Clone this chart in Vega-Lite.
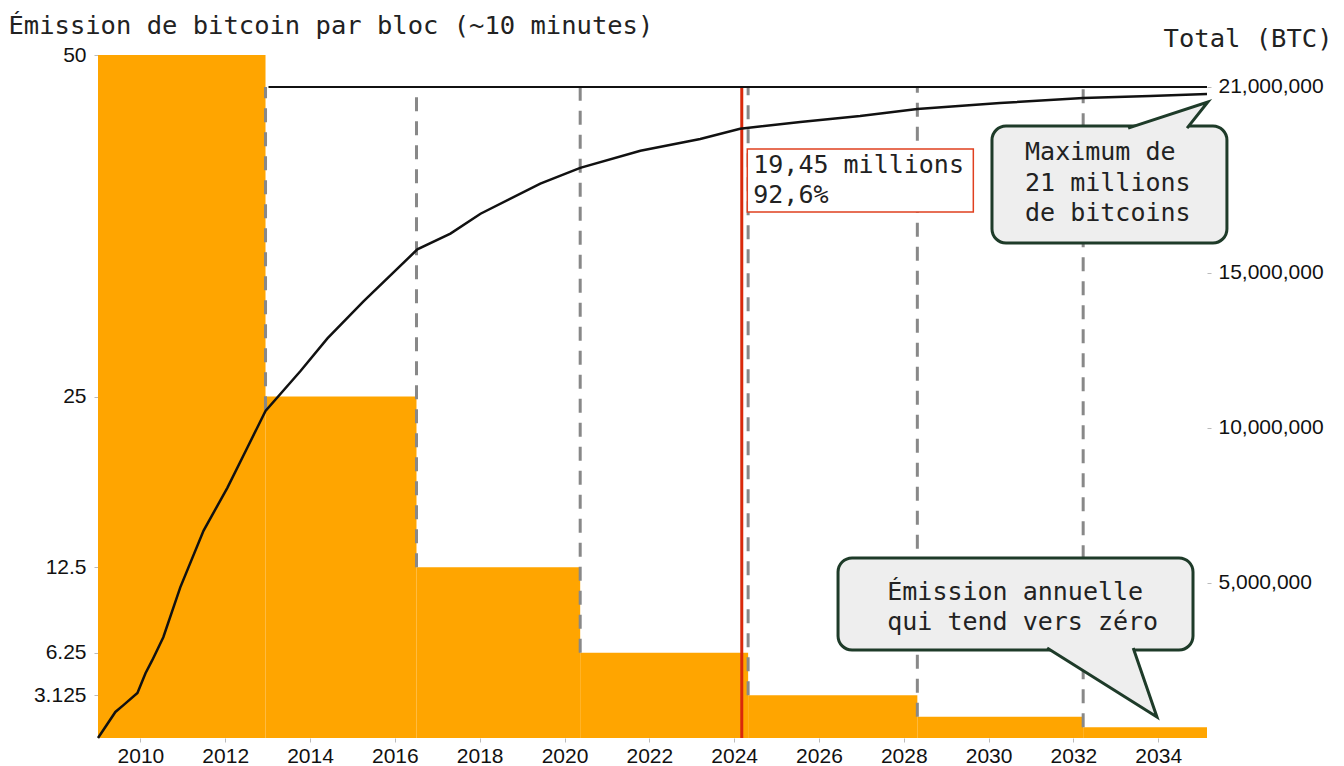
{
 "$schema": "https://vega.github.io/schema/vega-lite/v6.json",
 "width": 1109,
 "height": 683,
 "autosize": {"type": "none"},
 "padding": {"left": 98, "top": 55, "right": 137, "bottom": 28},
 "background": "white",
 "config": {
  "view": {"stroke": null},
  "axis": {"grid": false, "domain": false, "labelFont": "Liberation Sans", "labelFontSize": 21, "labelColor": "#111", "tickColor": "#bbb", "tickSize": 4, "titleFont": "DejaVu Sans Mono", "titleFontSize": 25.5, "titleFontWeight": "normal", "titleColor": "#222"}
 },
 "datasets": {
  "bars": [
   {"x": 2009.0, "x2": 2012.95, "y": 50},
   {"x": 2012.95, "x2": 2016.51, "y": 25},
   {"x": 2016.51, "x2": 2020.37, "y": 12.5},
   {"x": 2020.37, "x2": 2024.33, "y": 6.25},
   {"x": 2024.33, "x2": 2028.32, "y": 3.125},
   {"x": 2028.32, "x2": 2032.23, "y": 1.5625},
   {"x": 2032.23, "x2": 2035.15, "y": 0.78125}
  ],
  "halvings": [
   {"x": 2012.95, "y": 24.0, "y2": 47.66},
   {"x": 2016.51, "y": 12.5, "y2": 47.66},
   {"x": 2020.37, "y": 6.25, "y2": 47.66},
   {"x": 2024.33, "y": 3.125, "y2": 47.66},
   {"x": 2028.32, "y": 1.5625, "y2": 47.66},
   {"x": 2032.23, "y": 0.78125, "y2": 47.66}
  ],
  "today": [{"x": 2024.18, "y": 0, "y2": 47.66}],
  "redbox": [{"x": 2024.31, "x2": 2029.64, "y": 38.51, "y2": 43.12}],
  "callouts": [
   {"x": 2030.08, "x2": 2035.62, "y": 36.24, "y2": 44.8},
   {"x": 2026.45, "x2": 2034.82, "y": 6.44, "y2": 13.18}
  ],
  "tails": [
   {"id": 1, "o": 1, "x": 2033.29, "y": 44.65},
   {"id": 1, "o": 2, "x": 2035.17, "y": 46.56},
   {"id": 1, "o": 3, "x": 2034.68, "y": 44.65},
   {"id": 2, "o": 1, "x": 2031.38, "y": 6.59},
   {"id": 2, "o": 2, "x": 2033.97, "y": 1.54},
   {"id": 2, "o": 3, "x": 2033.41, "y": 6.59}
  ],
  "texts": [
   {"x": 2024.45, "y": 41.36, "t": "19,45 millions"},
   {"x": 2024.45, "y": 39.17, "t": "92,6%"},
   {"x": 2030.86, "y": 42.31, "t": "Maximum de"},
   {"x": 2030.86, "y": 40.05, "t": "21 millions"},
   {"x": 2030.86, "y": 37.85, "t": "de bitcoins"},
   {"x": 2027.61, "y": 10.1, "t": "Émission annuelle"},
   {"x": 2027.61, "y": 7.91, "t": "qui tend vers zéro"}
  ],
  "curve": [
   {"x": 2009.0, "y": 0},
   {"x": 2009.41, "y": 840000},
   {"x": 2009.6, "y": 1060000},
   {"x": 2009.93, "y": 1450000},
   {"x": 2010.12, "y": 2090000},
   {"x": 2010.28, "y": 2510000},
   {"x": 2010.54, "y": 3250000},
   {"x": 2010.94, "y": 4860000},
   {"x": 2011.49, "y": 6690000},
   {"x": 2012.05, "y": 8070000},
   {"x": 2012.52, "y": 9360000},
   {"x": 2012.95, "y": 10550000},
   {"x": 2013.77, "y": 11830000},
   {"x": 2014.41, "y": 12890000},
   {"x": 2015.26, "y": 14080000},
   {"x": 2016.53, "y": 15760000},
   {"x": 2017.31, "y": 16270000},
   {"x": 2018.02, "y": 16910000},
   {"x": 2019.43, "y": 17880000},
   {"x": 2020.37, "y": 18390000},
   {"x": 2021.79, "y": 18940000},
   {"x": 2023.2, "y": 19320000},
   {"x": 2024.14, "y": 19650000},
   {"x": 2025.56, "y": 19870000},
   {"x": 2026.97, "y": 20060000},
   {"x": 2028.32, "y": 20290000},
   {"x": 2030.27, "y": 20480000},
   {"x": 2032.23, "y": 20640000},
   {"x": 2033.81, "y": 20710000},
   {"x": 2035.15, "y": 20770000}
  ],
  "cap": [{"x": 2013.02, "x2": 2035.15, "y": 21000000}]
 },
 "encoding": {
  "x": {"field": "x", "type": "quantitative", "scale": {"domain": [2009.0, 2035.15], "nice": false, "zero": false},
        "axis": {"values": [2010, 2012, 2014, 2016, 2018, 2020, 2022, 2024, 2026, 2028, 2030, 2032, 2034], "labelExpr": "'' + datum.value", "title": null, "labelPadding": 3}}
 },
 "layer": [
  {
   "encoding": {
    "y": {"field": "y", "type": "quantitative", "scale": {"domain": [0, 50], "nice": false, "zero": true},
          "axis": {"orient": "left", "values": [3.125, 6.25, 12.5, 25, 50], "labelExpr": "'' + datum.value", "labelPadding": 8,
                   "title": "Émission de bitcoin par bloc (~10 minutes)", "titleAngle": 0, "titleAlign": "left", "titleBaseline": "alphabetic", "titleX": -90, "titleY": -22}}
   },
   "layer": [
    {"data": {"name": "bars"}, "mark": {"type": "rect", "color": "#FFA500"},
     "encoding": {"x2": {"field": "x2"}, "y2": {"datum": 0}}},
    {"data": {"name": "halvings"}, "mark": {"type": "rule", "color": "#888888", "strokeWidth": 3, "strokeDash": [14, 10]},
     "encoding": {"y2": {"field": "y2"}}},
    {"data": {"name": "today"}, "mark": {"type": "rule", "color": "#d9290b", "strokeWidth": 3},
     "encoding": {"y2": {"field": "y2"}}},
    {"data": {"name": "redbox"}, "mark": {"type": "rect", "fill": "white", "stroke": "#e0401f", "strokeWidth": 1.5},
     "encoding": {"x2": {"field": "x2"}, "y2": {"field": "y2"}}},
    {"data": {"name": "callouts"}, "mark": {"type": "rect", "fill": "#eeeeee", "stroke": "#1e3b29", "strokeWidth": 3, "cornerRadius": 14},
     "encoding": {"x2": {"field": "x2"}, "y2": {"field": "y2"}}},
    {"data": {"name": "tails"}, "mark": {"type": "line", "fill": "#eeeeee", "stroke": "#1e3b29", "strokeWidth": 3, "strokeJoin": "miter"},
     "encoding": {"detail": {"field": "id"}, "order": {"field": "o"}}},
    {"data": {"name": "texts"}, "mark": {"type": "text", "align": "left", "baseline": "alphabetic", "font": "DejaVu Sans Mono", "fontSize": 25, "color": "#222"},
     "encoding": {"text": {"field": "t"}}}
   ]
  },
  {
   "encoding": {
    "y": {"field": "y", "type": "quantitative", "scale": {"domain": [0, 22030000], "nice": false, "zero": true},
          "axis": {"orient": "right", "values": [5000000, 10000000, 15000000, 21000000], "labelExpr": "format(datum.value, ',')", "labelPadding": 7,
                   "title": "Total (BTC)", "titleAngle": 0, "titleAlign": "right", "titleBaseline": "alphabetic", "titleX": 125, "titleY": -9}}
   },
   "layer": [
    {"data": {"name": "cap"}, "mark": {"type": "rule", "color": "#111", "strokeWidth": 2},
     "encoding": {"x2": {"field": "x2"}}},
    {"data": {"name": "curve"}, "mark": {"type": "line", "color": "#111", "strokeWidth": 2.5}}
   ]
  }
 ],
 "resolve": {"scale": {"y": "independent"}}
}
